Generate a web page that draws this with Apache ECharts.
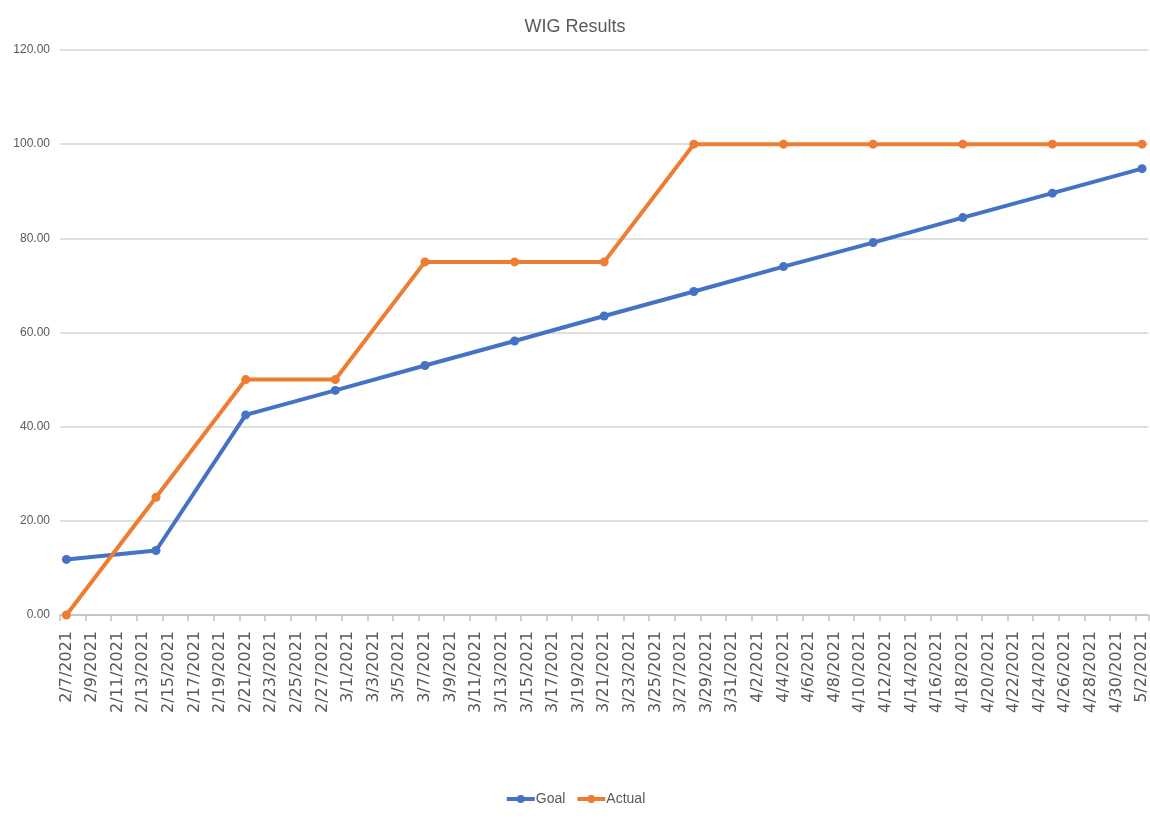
<!DOCTYPE html>
<html>
<head>
<meta charset="utf-8">
<script src="https://cdn.jsdelivr.net/npm/echarts@6/dist/echarts.min.js"></script>
<style>
html,body{margin:0;padding:0;background:#fff;}
#chart{width:1150px;height:823px;}
</style>
</head>
<body>
<div id="chart"></div>
<script>
// ---- data ----
const startDate = '2/7/2021';
const endDate = '5/2/2021';
const pointDates = ['2/7/2021','2/14/2021','2/21/2021','2/28/2021','3/7/2021','3/14/2021','3/21/2021','3/28/2021','4/4/2021','4/11/2021','4/18/2021','4/25/2021','5/2/2021'];
const goal   = [11.8, 13.7, 42.5, 47.7, 53.0, 58.2, 63.5, 68.7, 74.0, 79.1, 84.4, 89.6, 94.8];
const actual = [0, 25, 50, 50, 75, 75, 75, 100, 100, 100, 100, 100, 100];
const yTicks = [0, 20, 40, 60, 80, 100, 120];

// daily category labels for the date axis
function parseMDY(s){ const p = s.split('/'); return new Date(+p[2], +p[0]-1, +p[1]); }
function fmt(d){ return (d.getMonth()+1) + '/' + d.getDate() + '/' + d.getFullYear(); }
const days = [];
for (let d = parseMDY(startDate); d <= parseMDY(endDate); d = new Date(d.getFullYear(), d.getMonth(), d.getDate()+1)) {
  days.push(fmt(d));
}

const narrow = '"Liberation Sans Narrow", "Arial Narrow", "Liberation Sans", sans-serif';
const chart = echarts.init(document.getElementById('chart'));
chart.setOption({
  backgroundColor: '#ffffff',
  animation: false,
  title: {
    text: 'WIG Results',
    left: 'center',
    top: 13,
    textStyle: { fontFamily: narrow, fontSize: 18, fontWeight: 'normal', color: '#595959' }
  },
  legend: {
    data: ['Goal', 'Actual'],
    bottom: 12,
    left: 'center',
    itemWidth: 28,
    itemHeight: 10,
    itemGap: 10,
    lineStyle: { width: 4 },
    textStyle: { fontFamily: narrow, fontSize: 14, color: '#595959', padding: [0,0,0,-4] }
  },
  grid: { left: 60, right: -4, top: 50, bottom: 208, containLabel: false },
  xAxis: {
    type: 'category',
    data: days,
    boundaryGap: true,
    axisLine: { lineStyle: { color: '#bfbfbf', width: 1.5 } },
    axisTick: { show: true, interval: 1, length: 6, lineStyle: { color: '#bfbfbf', width: 1.5 } },
    axisLabel: {
      interval: 1,
      rotate: 90,
      margin: 16,
      fontFamily: '"DejaVu Sans", sans-serif',
      fontSize: 16,
      color: '#595959'
    },
    splitLine: { show: false }
  },
  yAxis: {
    type: 'value',
    min: yTicks[0],
    max: yTicks[yTicks.length-1],
    interval: yTicks[1] - yTicks[0],
    axisLine: { show: false },
    axisTick: { show: false },
    axisLabel: {
      margin: 10,
      fontFamily: narrow,
      fontSize: 12,
      color: '#595959',
      formatter: v => v.toFixed(2)
    },
    splitLine: { lineStyle: { color: '#d4d4d4', width: 1.5 } }
  },
  series: [
    {
      name: 'Goal',
      type: 'line',
      data: pointDates.map((d, i) => [d, goal[i]]),
      symbol: 'circle',
      symbolSize: 9,
      showAllSymbol: true,
      lineStyle: { color: '#4472C4', width: 4 },
      itemStyle: { color: '#4472C4' },
      z: 2
    },
    {
      name: 'Actual',
      type: 'line',
      data: pointDates.map((d, i) => [d, actual[i]]),
      symbol: 'circle',
      symbolSize: 9,
      showAllSymbol: true,
      lineStyle: { color: '#ED7D31', width: 4 },
      itemStyle: { color: '#ED7D31' },
      z: 3
    }
  ]
});
</script>
</body>
</html>
